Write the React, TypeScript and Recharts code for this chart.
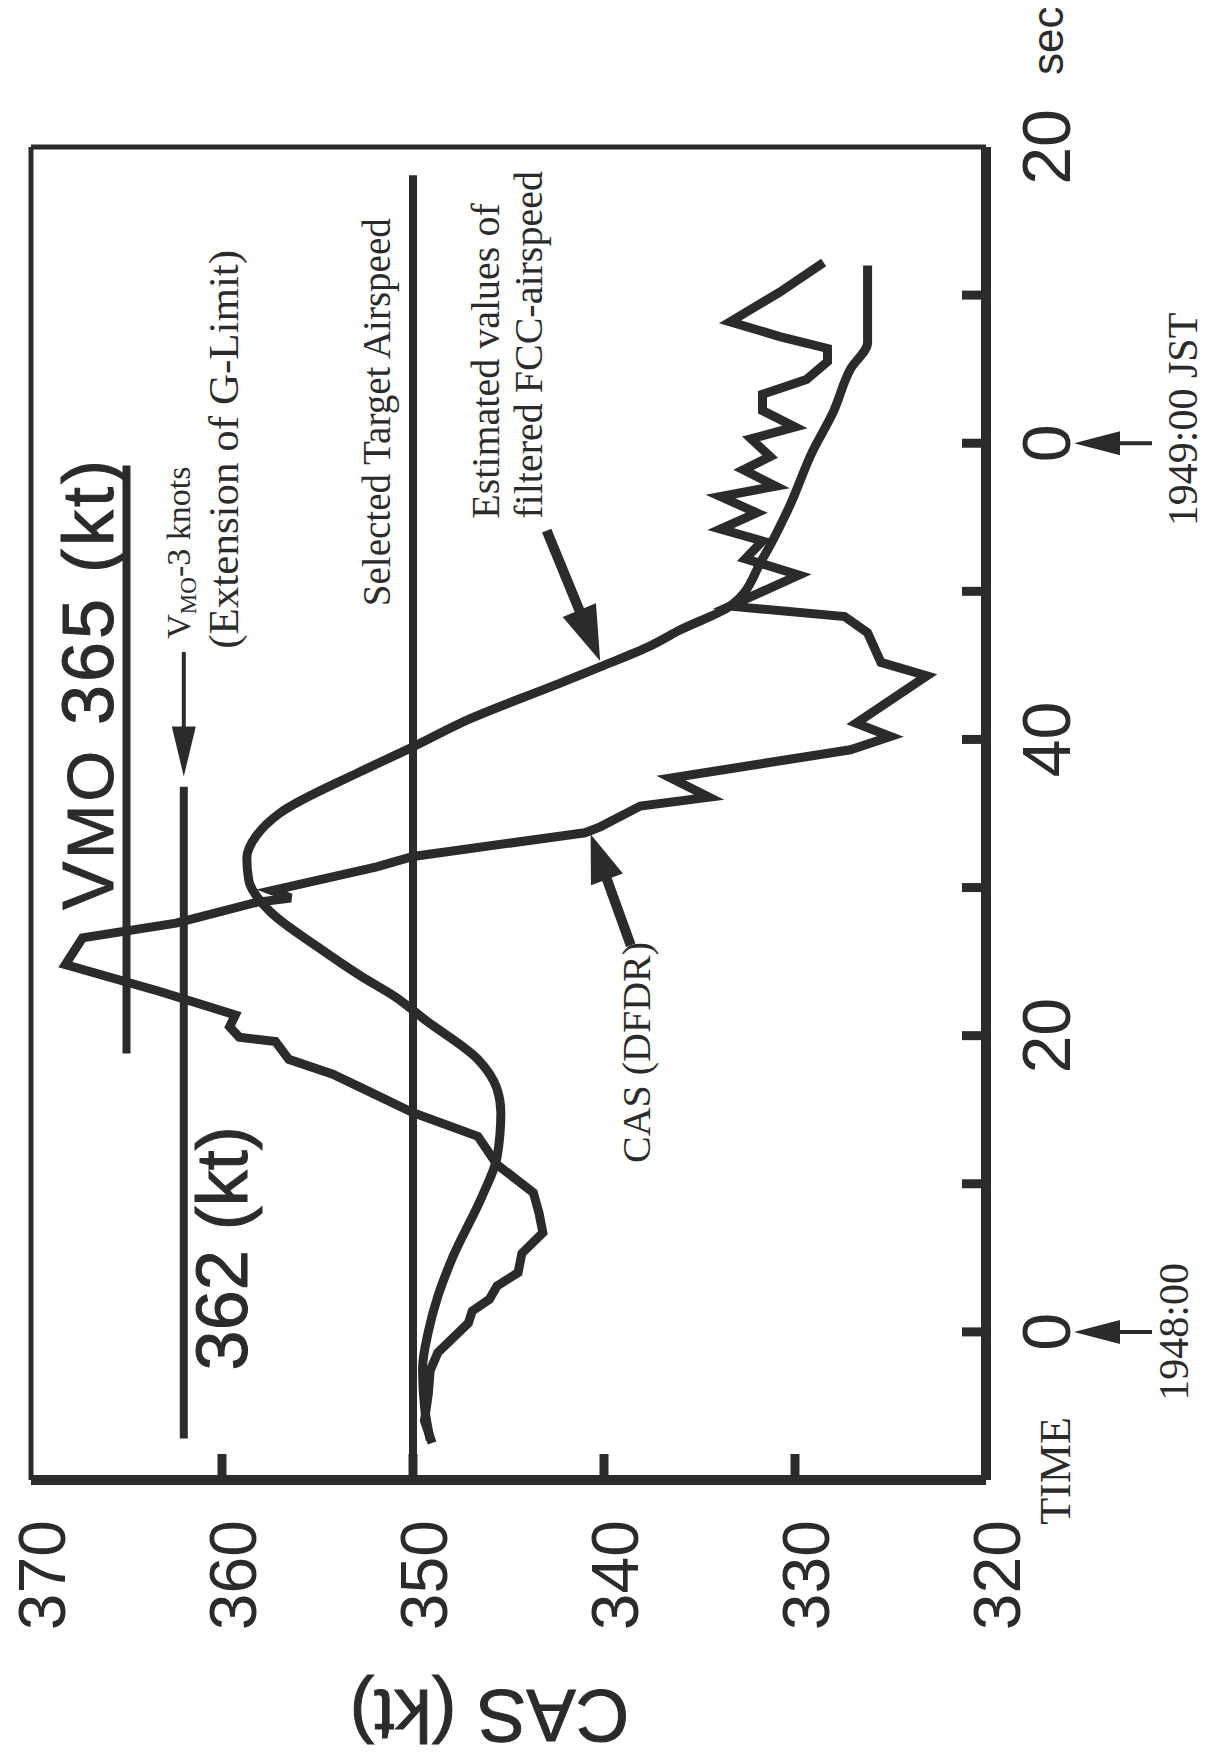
import React from 'react';
import { LineChart, Line, XAxis, YAxis, ReferenceLine, ReferenceDot } from 'recharts';

const INK = '#2b2b2b';
const SANS = '"Liberation Sans", Arial, Helvetica, sans-serif';
const SERIF = '"Liberation Serif", "Times New Roman", Times, serif';

// the plot is laid out landscape and turned a quarter turn counter-clockwise
const W = 1761;
const H = 1208;

// seconds after 19:48:00 JST (the labels restart at 0 at 19:49:00)
const TIME_TICKS = [-10, 0, 10, 20, 30, 40, 50, 60, 70, 80];
const TIME_LABELS: Record<number, string> = { 0: '0', 20: '20', 40: '40', 60: '0', 80: '20' };
const CAS_TICKS = [370, 360, 350, 340, 330, 320];

const VMO = 365;
const VMO_MINUS_3 = 362;
const TARGET_CAS = 350;
const VMO_SPAN = [18.8, 58.5];
const VMO_MINUS_3_SPAN = [-7.2, 36.8];
const TARGET_SPAN = [-10, 78.1];

// [time s, CAS kt]
const DFDR_CAS: [number, number][] = [
  [-7.5, 349.0], [-6.0, 349.4], [-4.2, 349.2], [-2.6, 349.1], [-1.4, 348.7],
  [0.6, 347.1], [1.4, 346.9], [2.2, 346.0], [3.1, 345.6], [4.0, 344.5],
  [5.3, 344.3], [6.7, 343.2], [8.0, 343.4], [9.4, 343.7], [11.3, 345.6],
  [13.2, 346.6], [14.8, 350.0], [16.1, 352.1], [17.4, 354.2], [18.4, 356.5],
  [19.6, 357.2], [19.9, 359.1], [20.6, 359.6], [21.4, 359.3], [23.0, 363.3],
  [24.8, 368.2], [26.6, 367.3], [27.6, 362.4], [29.0, 358.2], [29.3, 356.4],
  [29.8, 357.4], [31.4, 351.9], [32.1, 350.0], [33.7, 341.0], [34.1, 340.2],
  [35.5, 338.1], [36.1, 334.5], [37.4, 336.5], [39.3, 327.1], [40.2, 325.0],
  [41.1, 326.8], [44.3, 323.1], [45.2, 325.5], [47.2, 326.2], [48.3, 327.4],
  [49.0, 333.4], [51.1, 329.8], [52.2, 332.6], [53.4, 331.7], [54.2, 333.9],
  [55.3, 332.0], [56.4, 333.9], [57.1, 331.0], [58.2, 332.7], [59.1, 331.3],
  [60.3, 332.3], [61.1, 330.0], [62.2, 331.7], [63.3, 331.7], [64.3, 329.4],
  [65.5, 328.3], [66.4, 328.3], [67.2, 330.8], [68.2, 333.4], [70.2, 330.8],
  [72.2, 328.5],
];

const FCC_CAS: [number, number][] = [
  [-7.3, 349.1], [-5.0, 349.4], [-2.5, 349.5], [0.0, 349.2], [2.4, 348.7],
  [5.1, 347.9], [9.1, 346.4], [11.8, 345.6], [14.8, 345.4], [16.4, 345.6],
  [18.4, 346.6], [21.1, 349.4], [22.6, 350.9], [24.0, 352.7], [26.0, 355.0],
  [28.4, 357.5], [30.5, 358.6], [32.0, 358.7], [33.5, 358.2], [35.0, 357.0],
  [37.8, 352.8], [39.5, 350.0], [41.4, 347.0], [43.7, 342.5], [44.9, 340.2],
  [46.3, 337.6], [47.4, 336.0], [49.0, 333.4], [52.2, 331.7], [55.7, 330.3],
  [59.4, 329.1], [62.1, 328.0], [65.0, 327.1], [66.8, 326.2], [72.0, 326.2],
];

const rows = (pts: [number, number][]) => pts.map(([t, cas]) => ({ t, cas }));

const Clock = ({ x, y, text, dx, anchor, base }: any) => (
  <g>
    <line x1={x} y1={y + 166} x2={x} y2={y + 128} stroke={INK} strokeWidth={4} />
    <polygon points={`${x},${y + 88} ${x - 12},${y + 134} ${x + 12},${y + 134}`} fill={INK} />
    <text x={x + dx} y={y + base} textAnchor={anchor} fontFamily={SERIF} fontSize={42} fill={INK}>
      {text}
    </text>
  </g>
);

const TimeTick = ({ x, y, payload }: any) => {
  const v = payload.value as number;
  const label = TIME_LABELS[v];
  return (
    <g>
      {v > -10 && v < 80 && <line x1={x} y1={y} x2={x} y2={y - 24} stroke={INK} strokeWidth={9} />}
      {label !== undefined && (
        <text x={x} y={y + 84} textAnchor="middle" fontFamily={SANS} fontSize={68} fill={INK}>
          {label}
        </text>
      )}
      {v === 80 && (
        <text x={x + 72} y={y + 77} fontFamily={SANS} fontSize={44} fill={INK}>sec</text>
      )}
      {v === -10 && (
        <text x={x + 9} y={y + 84} textAnchor="middle" fontFamily={SERIF} fontSize={44} fill={INK}>TIME</text>
      )}
      {v === 0 && <Clock x={x} y={y} text="1948:00" dx={0} anchor="middle" base={202} />}
      {v === 60 && <Clock x={x} y={y} text="1949:00 JST" dx={-83} anchor="start" base={211} />}
    </g>
  );
};

const CasTick = ({ x, y, payload }: any) => {
  const v = payload.value as number;
  return (
    <g>
      {v > 320 && v < 370 && <line x1={x} y1={y} x2={x + 26} y2={y} stroke={INK} strokeWidth={9} />}
      <text x={x - 40} y={y + 10} dy="0.36em" textAnchor="end" fontFamily={SANS} fontSize={66} fill={INK}>
        {v}
      </text>
    </g>
  );
};

// straight shaft ending in a filled head at (x2, y2)
const arrow = (len: number, half: number, width: number) => (p: any) => {
  const { x1, y1, x2, y2 } = p;
  const d = Math.hypot(x2 - x1, y2 - y1) || 1;
  const ux = (x2 - x1) / d;
  const uy = (y2 - y1) / d;
  const bx = x2 - ux * len;
  const by = y2 - uy * len;
  return (
    <g>
      <line x1={x1} y1={y1} x2={bx + ux * 4} y2={by + uy * 4} stroke={INK} strokeWidth={width} />
      <polygon
        points={`${x2},${y2} ${bx - uy * half},${by + ux * half} ${bx + uy * half},${by - ux * half}`}
        fill={INK}
      />
    </g>
  );
};

const note = (draw: (cx: number, cy: number) => React.ReactNode) => (p: any) => <g>{draw(p.cx, p.cy)}</g>;

const serif = { fontFamily: SERIF, fontSize: 39, fill: INK };
const sans = { fontFamily: SANS, fill: INK, stroke: INK, strokeWidth: 1 };

export default function App() {
  return (
    <div style={{ position: 'absolute', left: 0, top: 0, width: H, height: W, overflow: 'hidden', background: '#fff' }}>
      <div
        style={{
          position: 'absolute',
          left: 0,
          top: 0,
          width: W,
          height: H,
          transformOrigin: '0 0',
          transform: `translate(0px, ${W}px) rotate(-90deg)`,
        }}
      >
        <LineChart width={W} height={H} margin={{ top: 31, right: 147, bottom: 162, left: 181 }}>
          <XAxis
            type="number"
            dataKey="t"
            domain={[-10, 80]}
            ticks={TIME_TICKS}
            interval={0}
            allowDataOverflow
            height={60}
            axisLine={{ stroke: INK, strokeWidth: 10 }}
            tickLine={false}
            tickSize={0}
            tickMargin={0}
            tick={<TimeTick />}
          />
          <YAxis
            type="number"
            dataKey="cas"
            domain={[320, 370]}
            ticks={CAS_TICKS}
            interval={0}
            allowDataOverflow
            width={100}
            axisLine={{ stroke: INK, strokeWidth: 10 }}
            tickLine={false}
            tickSize={0}
            tickMargin={0}
            tick={<CasTick />}
          />

          {/* thin upper and late edges of the frame */}
          <ReferenceLine y={370} stroke={INK} strokeWidth={5} />
          <ReferenceLine x={80} stroke={INK} strokeWidth={5} />

          <ReferenceLine
            segment={[{ x: VMO_SPAN[0], y: VMO }, { x: VMO_SPAN[1], y: VMO }]}
            stroke={INK}
            strokeWidth={8}
          />
          <ReferenceLine
            segment={[{ x: VMO_MINUS_3_SPAN[0], y: VMO_MINUS_3 }, { x: VMO_MINUS_3_SPAN[1], y: VMO_MINUS_3 }]}
            stroke={INK}
            strokeWidth={8}
          />
          <ReferenceLine
            segment={[{ x: TARGET_SPAN[0], y: TARGET_CAS }, { x: TARGET_SPAN[1], y: TARGET_CAS }]}
            stroke={INK}
            strokeWidth={8}
          />

          <Line
            data={rows(FCC_CAS)}
            dataKey="cas"
            type="monotone"
            stroke={INK}
            strokeWidth={9}
            dot={false}
            isAnimationActive={false}
          />
          <Line
            data={rows(DFDR_CAS)}
            dataKey="cas"
            type="linear"
            stroke={INK}
            strokeWidth={9}
            strokeLinejoin="miter"
            strokeMiterlimit={4}
            dot={false}
            isAnimationActive={false}
          />

          {/* pointers */}
          <ReferenceLine
            segment={[{ x: 45.9, y: VMO_MINUS_3 }, { x: 37.5, y: VMO_MINUS_3 }]}
            shape={arrow(50, 12, 4)}
          />
          <ReferenceLine segment={[{ x: 54.1, y: 343.0 }, { x: 45.3, y: 340.2 }]} shape={arrow(55, 18, 10)} />
          <ReferenceLine segment={[{ x: 26.1, y: 338.6 }, { x: 33.6, y: 340.7 }]} shape={arrow(48, 17, 10)} />

          {/* labels */}
          <ReferenceDot
            x={28.5}
            y={365.7}
            r={1}
            ifOverflow="visible"
            shape={note((cx, cy) => (
              <text x={cx} y={cy} fontSize={72} letterSpacing={3} {...sans}>
                V<tspan fontSize={65}>MO</tspan> 365 (kt)
              </text>
            ))}
          />
          <ReferenceDot
            x={-2.6}
            y={358.7}
            r={1}
            ifOverflow="visible"
            shape={note((cx, cy) => (
              <text x={cx} y={cy} fontSize={72} {...sans}>362 (kt)</text>
            ))}
          />
          <ReferenceDot
            x={46.8}
            y={361.7}
            r={1}
            ifOverflow="visible"
            shape={note((cx, cy) => (
              <g>
                <text x={cx} y={cy} {...serif} fontSize={34}>
                  V<tspan fontSize={23} dy={6}>MO</tspan>
                  <tspan dy={-6}>-3 knots</tspan>
                </text>
                <text x={cx - 10} y={cy + 48} {...serif} fontSize={43}>(Extension of G-Limit)</text>
              </g>
            ))}
          />
          <ReferenceDot
            x={49.0}
            y={351.2}
            r={1}
            ifOverflow="visible"
            shape={note((cx, cy) => (
              <text x={cx} y={cy} {...serif}>Selected Target Airspeed</text>
            ))}
          />
          <ReferenceDot
            x={54.9}
            y={345.5}
            r={1}
            ifOverflow="visible"
            shape={note((cx, cy) => (
              <g>
                <text x={cx} y={cy} {...serif} fontSize={40}>Estimated values of</text>
                <text x={cx} y={cy + 43} {...serif} fontSize={40}>filtered FCC-airspeed</text>
              </g>
            ))}
          />
          <ReferenceDot
            x={11.4}
            y={337.6}
            r={1}
            ifOverflow="visible"
            shape={note((cx, cy) => (
              <text x={cx} y={cy} {...serif} fontSize={40}>CAS (DFDR)</text>
            ))}
          />
          <ReferenceDot
            x={-24.2}
            y={346.0}
            r={1}
            ifOverflow="visible"
            shape={note((cx, cy) => (
              <text
                x={cx}
                y={cy}
                transform={`rotate(-90, ${cx}, ${cy})`}
                textAnchor="middle"
                fontSize={74}
                {...sans}
              >
                CAS (kt)
              </text>
            ))}
          />
        </LineChart>
      </div>
    </div>
  );
}
